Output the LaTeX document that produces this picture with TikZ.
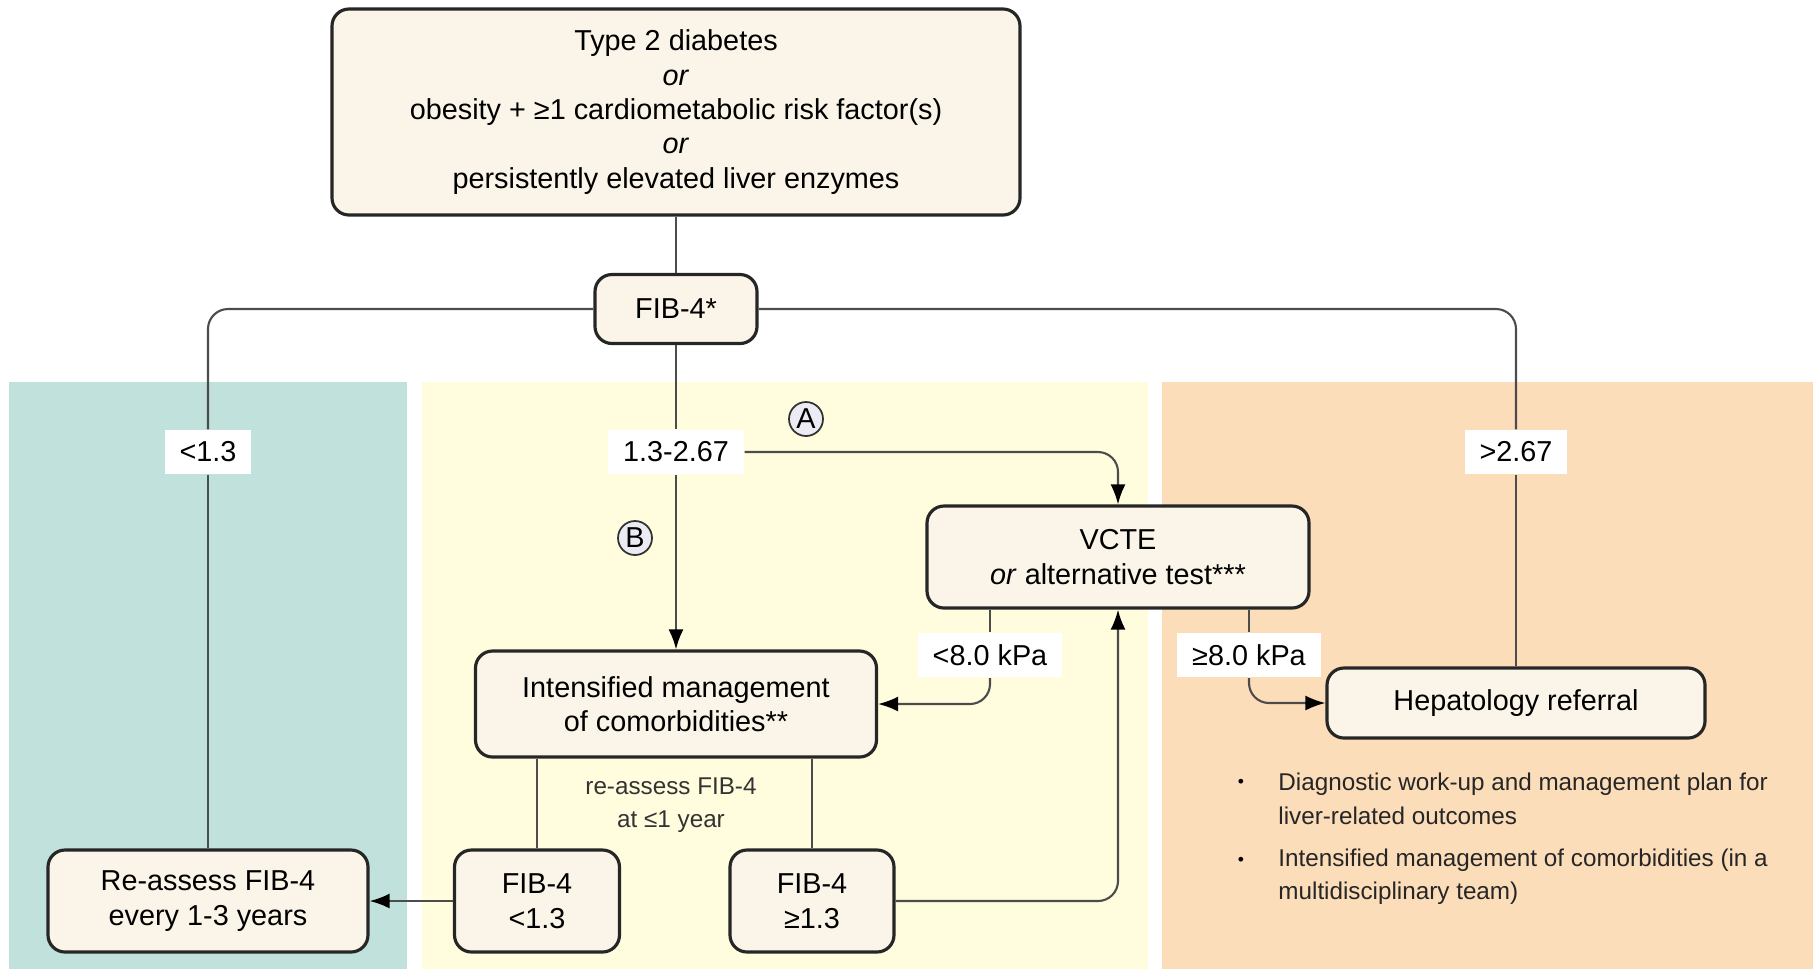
\documentclass[tikz,border=0pt]{standalone}
\usepackage{fontspec}
\setmainfont{Liberation Sans}
\usetikzlibrary{arrows.meta}
\definecolor{panelteal}{RGB}{192,225,220}
\definecolor{panelyellow}{RGB}{255,253,222}
\definecolor{panelorange}{RGB}{252,221,186}
\definecolor{boxcream}{RGB}{250,245,232}
\definecolor{circlilac}{RGB}{236,234,243}
\newcommand\boxfont{\fontsize{8.2}{9.8}\selectfont}
\newcommand\notefont{\fontsize{6.9}{9.5}\selectfont}

\begin{document}
\begin{tikzpicture}[
  flowbox/.style={draw=black!85, line width=0.9pt, fill=boxcream, rounded corners=0.17cm,
                  align=center, inner sep=0pt, font=\boxfont},
  cutoff/.style={fill=white, inner xsep=0.15cm, minimum height=0.41cm, font=\boxfont},
  conn/.style={draw=black!70, line width=0.6pt, rounded corners=0.2cm},
  arrowed/.style={-{Latex[length=0.2cm, width=0.15cm, black]}},
  tag/.style={circle, draw=black!80, line width=0.5pt, fill=circlilac, minimum size=0.34cm,
              inner sep=0pt, font=\boxfont}]
  \useasboundingbox (0,0) rectangle (18.13,-9.69);
  % background panels
  \fill[panelteal] (0.09,-3.82) rectangle (4.07,-9.69);
  \fill[panelyellow] (4.22,-3.82) rectangle (11.48,-9.69);
  \fill[panelorange] (11.62,-3.82) rectangle (18.13,-9.69);

  \node[flowbox, minimum width=6.88cm, minimum height=2.06cm] (start) at (6.76,-1.12)
    {Type 2 diabetes\\\textit{or}\\obesity + ≥1 cardiometabolic risk factor(s)\\\textit{or}\\persistently elevated liver enzymes};
  \node[flowbox, minimum width=1.62cm, minimum height=0.69cm] (fib) at (6.76,-3.09) {FIB-4*};

  \node[cutoff] (low) at (2.08,-4.52) {<1.3};
  \node[cutoff] (mid) at (6.76,-4.52) {1.3-2.67};
  \node[cutoff] (high) at (15.16,-4.52) {>2.67};
  \node[tag] (tagA) at (8.06,-4.19) {A};
  \node[tag] (tagB) at (6.35,-5.38) {B};

  \node[flowbox, minimum width=3.82cm, minimum height=1.02cm] (vcte) at (11.18,-5.57)
    {VCTE\\\textit{or} alternative test***};
  \node[flowbox, minimum width=4.01cm, minimum height=1.06cm] (manage) at (6.76,-7.04)
    {Intensified management\\of comorbidities**};
  \node[flowbox, minimum width=3.78cm, minimum height=0.70cm] (hepat) at (15.16,-7.03) {Hepatology referral};
  \node[cutoff] (kpalow) at (9.90,-6.55) {<8.0 kPa};
  \node[cutoff] (kpahigh) at (12.49,-6.55) {≥8.0 kPa};

  \node[flowbox, minimum width=3.20cm, minimum height=1.02cm] (reassess) at (2.08,-9.01)
    {Re-assess FIB-4\\every 1-3 years};
  \node[flowbox, minimum width=1.65cm, minimum height=1.02cm] (fiblow) at (5.37,-9.01) {FIB-4\\<1.3};
  \node[flowbox, minimum width=1.64cm, minimum height=1.02cm] (fibhigh) at (8.12,-9.01) {FIB-4\\≥1.3};
  \node[align=center, font=\notefont, text=black!80] (recheck) at (6.71,-8.05) {re-assess FIB-4\\at ≤1 year};

  \node[font=\fontsize{5}{6}\selectfont] (dot1) at (12.41,-7.83) {•};
  \node[anchor=west, align=left, font=\notefont, text=black!85] (note1) at (12.66,-7.99)
    {Diagnostic work-up and management plan for\\liver-related outcomes};
  \node[font=\fontsize{5}{6}\selectfont] (dot2) at (12.41,-8.61) {•};
  \node[anchor=west, align=left, font=\notefont, text=black!85] (note2) at (12.66,-8.77)
    {Intensified management of comorbidities (in a\\multidisciplinary team)};

  \draw[conn] (start.south) -- (fib.north);
  \draw[conn] (fib.west) -| (low.north);
  \draw[conn] (low.south) -- (reassess.north);
  \draw[conn] (fib.east) -| (high.north);
  \draw[conn] (high.south) -- (hepat.north);
  \draw[conn] (fib.south) -- (mid.north);
  \draw[conn, arrowed] (mid.south) -- (manage.north);
  \draw[conn, arrowed] (mid.east) -| (vcte.north);
  \draw[conn] (vcte.south -| kpalow) -- (kpalow.north);
  \draw[conn, arrowed] (kpalow.south) |- (manage.east);
  \draw[conn] (vcte.south -| kpahigh) -- (kpahigh.north);
  \draw[conn, arrowed] (kpahigh.south) |- (hepat.west);
  \draw[conn] (manage.south -| fiblow) -- (fiblow.north);
  \draw[conn] (manage.south -| fibhigh) -- (fibhigh.north);
  \draw[conn, arrowed] (fiblow.west) -- (reassess.east);
  \draw[conn, arrowed] (fibhigh.east) -| (vcte.south);
\end{tikzpicture}
\end{document}
